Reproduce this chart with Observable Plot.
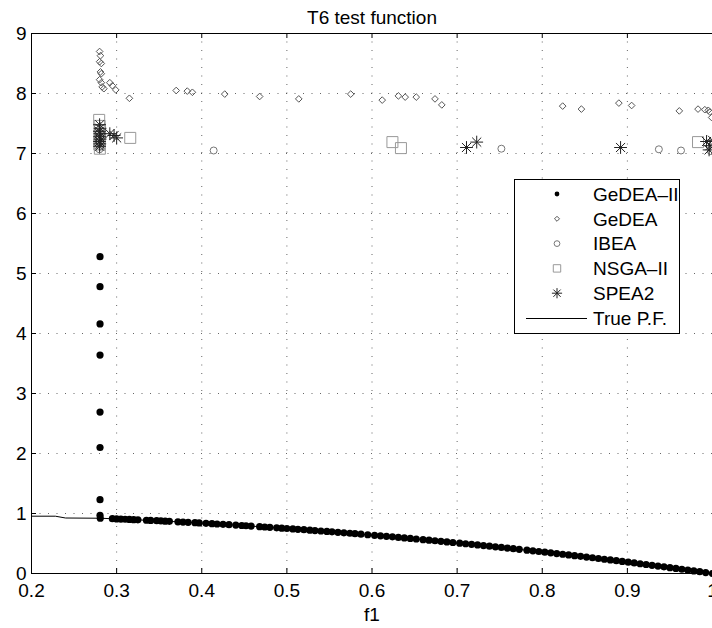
<!DOCTYPE html>
<html><head><meta charset="utf-8">
<script src="https://cdn.jsdelivr.net/npm/d3@7"></script>
<script src="https://cdn.jsdelivr.net/npm/@observablehq/plot@0.6"></script>
<style>
html,body{margin:0;padding:0;background:#fff;overflow:hidden;}
#wrap{position:relative;width:712px;height:628px;}
#legend{position:absolute;left:0;top:0;}
</style></head><body><div id="wrap"></div>
<script>
const title = "T6 test function";
const xLabel = "f1";
const xTicks = [0.2, 0.3, 0.4, 0.5, 0.6, 0.7, 0.8, 0.9, 1];
const yTicks = [0, 1, 2, 3, 4, 5, 6, 7, 8, 9];
const seriesNames = ["GeDEA–II", "GeDEA", "IBEA", "NSGA–II", "SPEA2", "True P.F."];

// GeDEA-II (filled dots)
const gedea2X = [0.2805,0.2805,0.2805,0.2805,0.2805,0.2805,0.2805,0.2805,0.2808,
 0.295,0.300,0.305,0.310,0.315,0.320,0.325,0.335,0.340,0.347,0.352,0.357,0.362,0.372,0.378,0.384,0.392,0.397,
 0.405,0.412,0.418,0.425,0.432,0.440,0.447,0.452,0.458,0.468,0.474,0.480,0.488,0.494,0.500,0.507,0.513,0.520,
 0.527,0.533,0.540,0.547,0.553,0.560,0.567,0.574,0.580,0.587,0.595,0.603,0.610,0.617,0.624,0.631,0.638,0.645,
 0.652,0.660,0.667,0.674,0.681,0.688,0.695,0.703,0.710,0.717,0.724,0.731,0.738,0.745,0.752,0.759,0.766,0.773,
 0.782,0.789,0.796,0.803,0.810,0.817,0.824,0.831,0.838,0.845,0.852,0.859,0.866,0.873,0.880,0.887,0.894,0.901,
 0.908,0.915,0.922,0.929,0.936,0.943,0.950,0.957,0.964,0.971,0.978,0.985,0.992,1.000];
const gedea2Y = [5.28,4.78,4.16,3.64,2.69,2.10,1.23,0.97,0.921,
 0.9130,0.9100,0.9070,0.9039,0.9008,0.8976,0.8944,0.8878,0.8844,0.8796,0.8761,0.8726,0.8690,0.8616,0.8571,0.8525,0.8463,0.8424,
 0.8360,0.8303,0.8253,0.8194,0.8134,0.8064,0.8002,0.7957,0.7902,0.7810,0.7753,0.7696,0.7619,0.7560,0.7500,0.7430,0.7368,0.7296,
 0.7223,0.7159,0.7084,0.7008,0.6942,0.6864,0.6785,0.6705,0.6636,0.6554,0.6460,0.6364,0.6279,0.6193,0.6106,0.6018,0.5930,0.5840,
 0.5749,0.5644,0.5551,0.5457,0.5362,0.5267,0.5170,0.5058,0.4959,0.4859,0.4758,0.4656,0.4554,0.4450,0.4345,0.4239,0.4132,0.4025,
 0.3885,0.3775,0.3664,0.3552,0.3439,0.3325,0.3210,0.3094,0.2978,0.2860,0.2741,0.2621,0.2500,0.2379,0.2256,0.2132,0.2008,0.1882,
 0.1755,0.1628,0.1499,0.1370,0.1239,0.1108,0.0975,0.0842,0.0707,0.0572,0.0435,0.0298,0.0159,0.0000];

// GeDEA (diamonds)
const gedeaX = [0.280,0.281,0.280,0.282,0.281,0.282,0.280,0.282,0.283,0.285,0.292,0.295,0.299,0.315,
 0.370,0.383,0.389,0.427,0.468,0.514,0.575,0.612,0.631,0.639,0.652,0.674,0.682,
 0.824,0.846,0.890,0.905,0.961,0.983,0.991,0.995,0.997,0.999];
const gedeaY = [8.70,8.63,8.53,8.50,8.36,8.33,8.23,8.18,8.11,8.08,8.18,8.13,8.06,7.92,
 8.05,8.04,8.02,7.99,7.95,7.91,7.99,7.89,7.96,7.94,7.94,7.91,7.81,
 7.79,7.74,7.84,7.80,7.71,7.74,7.73,7.72,7.69,7.60];

// IBEA (circles)
const ibeaX = [0.2795,0.2805,0.2800,0.2810,0.2798,0.414,0.752,0.937,0.963,0.998];
const ibeaY = [7.35,7.26,7.18,7.12,7.07,7.05,7.08,7.07,7.05,7.04];

// NSGA-II (squares)
const nsgaX = [0.2795,0.2800,0.2805,0.2798,0.2802,0.2797,0.2803,0.316,0.624,0.634,0.983];
const nsgaY = [7.56,7.46,7.38,7.30,7.22,7.15,7.08,7.26,7.19,7.09,7.19];

// SPEA2 (asterisks)
const speaX = [0.2800,0.2805,0.2798,0.2803,0.2800,0.2806,0.2799,0.2802,0.2800,0.292,0.297,0.300,
 0.711,0.723,0.892,0.993,0.997,1.000,0.996];
const speaY = [7.48,7.42,7.37,7.33,7.28,7.24,7.20,7.16,7.12,7.33,7.30,7.26,
 7.10,7.19,7.10,7.20,7.13,7.22,7.06];

// True Pareto front (line)
const pfX = [0.2,0.228,0.240,0.2808,0.30,0.35,0.40,0.45,0.50,0.55,0.60,0.65,0.70,0.75,0.80,0.85,0.90,0.95,1.0];
const pfY = [0.955,0.955,0.925,0.921,0.910,0.8775,0.840,0.7975,0.750,0.6975,0.640,0.5775,0.510,0.4375,0.360,0.2775,0.190,0.0975,0.0];

const zip = (xs, ys) => xs.map((x, i) => ({x, y: ys[i]}));
const gedea2 = zip(gedea2X, gedea2Y), gedea = zip(gedeaX, gedeaY), ibea = zip(ibeaX, ibeaY),
      nsga = zip(nsgaX, nsgaY), spea = zip(speaX, speaY), pf = zip(pfX, pfY);

const FS = 19;
const FONT = "'Liberation Sans', Arial, Helvetica, sans-serif";
const W = 712, H = 628, mL = 31, mR = 0, mT = 33, mB = 55;
const iw = W - mL - mR, ih = H - mT - mB;
const inner = xTicks.slice(1, -1), innerY = yTicks.slice(1, -1);
const gridStyle = {stroke: "#333", strokeWidth: 1, strokeDasharray: "1,7.5", strokeOpacity: 0.75};

const chart = Plot.plot({
  width: W, height: H, marginLeft: mL, marginRight: mR, marginTop: mT, marginBottom: mB,
  style: {fontFamily: FONT, fontSize: FS + "px", background: "#fff", color: "#000"},
  x: {domain: [0.2, 1]},
  y: {domain: [0, 9]},
  marks: [
    Plot.ruleX(inner, gridStyle),
    Plot.ruleY(innerY, gridStyle),
    Plot.ruleX(inner, {stroke: "#000", insetTop: ih - 5}),
    Plot.ruleX(inner, {stroke: "#000", insetBottom: ih - 5}),
    Plot.ruleY(innerY, {stroke: "#000", insetRight: iw - 5}),
    Plot.ruleX([0.2], {stroke: "#000"}),
    Plot.ruleY([0, 9], {stroke: "#000"}),
    Plot.axisX({ticks: xTicks, tickSize: 0, tickPadding: 10, tickFormat: d => String(d), fontSize: FS, label: null}),
    Plot.axisY({ticks: yTicks, tickSize: 0, tickPadding: 5, tickFormat: d => String(d), fontSize: FS, label: null}),
    Plot.text([xLabel], {frameAnchor: "bottom", dy: 47, lineAnchor: "bottom", fontSize: FS}),
    Plot.text([title], {frameAnchor: "top", dy: -10, lineAnchor: "bottom", fontSize: FS}),
    Plot.line(pf, {x: "x", y: "y", stroke: "#000", strokeWidth: 1}),
    Plot.dot(gedea2, {x: "x", y: "y", r: 3.6, fill: "#000", stroke: "none"}),
    Plot.dot(gedea, {x: "x", y: "y", symbol: "diamond2", r: 3, stroke: "#555", strokeWidth: 1, fill: "none"}),
    Plot.dot(ibea, {x: "x", y: "y", symbol: "circle", r: 3.5, stroke: "#777", strokeWidth: 1, fill: "none"}),
    Plot.dot(nsga, {x: "x", y: "y", symbol: "square2", r: 7, stroke: "#999", strokeWidth: 1, fill: "none"}),
    Plot.dot(spea, {x: "x", y: "y", symbol: "plus", r: 4.2, stroke: "#222", strokeWidth: 1}),
    Plot.dot(spea, {x: "x", y: "y", symbol: "times", r: 4.2, stroke: "#222", strokeWidth: 1})
  ]
});
document.getElementById("wrap").appendChild(chart);

// Legend (overlay)
const lg = d3.select("#wrap").append("svg").attr("id", "legend").attr("width", W).attr("height", H)
  .style("font-family", FONT).style("font-size", FS + "px");
const bx = 514, by = 179, bw = 165, bh = 154, rowH = 24.8, mx = 557, tx = 593, ry0 = 194;
lg.append("rect").attr("x", bx + 0.5).attr("y", by + 0.5).attr("width", bw).attr("height", bh)
  .attr("fill", "#fff").attr("stroke", "#000");
const legSyms = [
  {sym: d3.symbolCircle, size: 18, fill: "#000", stroke: "none"},
  {sym: d3.symbolDiamond2, size: 16, fill: "none", stroke: "#555"},
  {sym: d3.symbolCircle, size: 26, fill: "none", stroke: "#777"},
  {sym: d3.symbolSquare2, size: 70, fill: "none", stroke: "#999"},
  {sym: "star", size: 36, fill: "none", stroke: "#222"},
  {sym: "line"}
];
seriesNames.forEach((name, i) => {
  const cy = ry0 + i * rowH;
  const s = legSyms[i];
  if (s.sym === "line") {
    lg.append("line").attr("x1", 526).attr("x2", 587).attr("y1", cy + 0.5).attr("y2", cy + 0.5).attr("stroke", "#000");
  } else if (s.sym === "star") {
    lg.append("path").attr("transform", `translate(${mx},${cy})`).attr("d", d3.symbol(d3.symbolPlus, s.size)()).attr("stroke", s.stroke).attr("fill", "none");
    lg.append("path").attr("transform", `translate(${mx},${cy})`).attr("d", d3.symbol(d3.symbolTimes, s.size)()).attr("stroke", s.stroke).attr("fill", "none");
  } else {
    lg.append("path").attr("transform", `translate(${mx},${cy})`).attr("d", d3.symbol(s.sym, s.size)()).attr("fill", s.fill).attr("stroke", s.stroke);
  }
  lg.append("text").attr("x", tx).attr("y", cy).attr("dy", "0.36em").text(name);
});
</script></body></html>
